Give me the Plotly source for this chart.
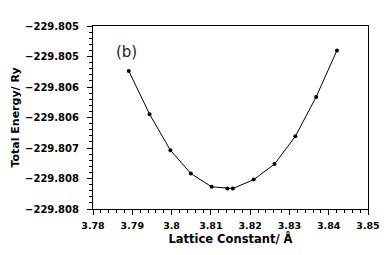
import plotly.graph_objects as go

lattice = [3.7891, 3.7944, 3.7997, 3.8049, 3.8102, 3.8142, 3.8156, 3.8209, 3.8262, 3.8315, 3.8368, 3.8421]
energy = [-229.80581, -229.80659, -229.80724, -229.80766, -229.80790, -229.80793, -229.80793,
          -229.80777, -229.80749, -229.80699, -229.80628, -229.80544]

y_tickvals = [-229.8050, -229.80555, -229.8061, -229.80665, -229.8072, -229.80775, -229.8083]
y_ticktext = ["−229.805", "−229.805", "−229.806", "−229.806", "−229.807", "−229.808", "−229.808"]
x_tickvals = [3.78, 3.79, 3.80, 3.81, 3.82, 3.83, 3.84, 3.85]
x_ticktext = ["3.78", "3.79", "3.8", "3.81", "3.82", "3.83", "3.84", "3.85"]

fig = go.Figure()
fig.add_trace(go.Scatter(
    x=lattice, y=energy, mode="lines+markers",
    line=dict(color="black", width=1),
    marker=dict(color="black", size=4),
    showlegend=False,
))

ytickfont = dict(family="DejaVu Sans", size=10, color="black", weight="bold")
xtickfont = dict(family="DejaVu Sans", size=9.5, color="black", weight="bold")
ytitlefont = dict(family="DejaVu Sans", size=11, color="black", weight="bold")
xtitlefont = dict(family="DejaVu Sans", size=11.5, color="black", weight="bold")

fig.update_layout(
    width=392, height=255,
    margin=dict(l=93, r=16, t=26, b=46),
    paper_bgcolor="white", plot_bgcolor="white",
    xaxis=dict(
        range=[3.78, 3.85], tickvals=x_tickvals, ticktext=x_ticktext,
        ticks="outside", ticklen=5, tickwidth=1, tickcolor="black",
        minor=dict(ticks="outside", ticklen=3, tickcolor="black", dtick=0.002),
        showline=True, linecolor="black", linewidth=1, mirror=True,
        showgrid=False, zeroline=False, tickfont=xtickfont, ticklabelstandoff=3,
        title=dict(text="Lattice Constant/ Å", font=xtitlefont, standoff=4),
    ),
    yaxis=dict(
        range=[-229.8083, -229.8050], tickvals=y_tickvals, ticktext=y_ticktext,
        ticks="outside", ticklen=5, tickwidth=1, tickcolor="black",
        minor=dict(ticks="outside", ticklen=3, tickcolor="black", tick0=-229.8083, dtick=0.00011),
        showline=True, linecolor="black", linewidth=1, mirror=True,
        showgrid=False, zeroline=False, tickfont=ytickfont, ticklabelstandoff=6,
        title=dict(text="Total Energy/ Ry", font=ytitlefont, standoff=3),
    ),
    annotations=[dict(
        x=3.7853, y=-229.80546, xref="x", yref="y", text="(b)", showarrow=False,
        xanchor="left", yanchor="middle",
        font=dict(family="DejaVu Sans", size=15, color="#222222"),
    )],
)

fig.write_html("out.html", config={"displayModeBar": False},
               post_script="document.body.style.margin='0';")
